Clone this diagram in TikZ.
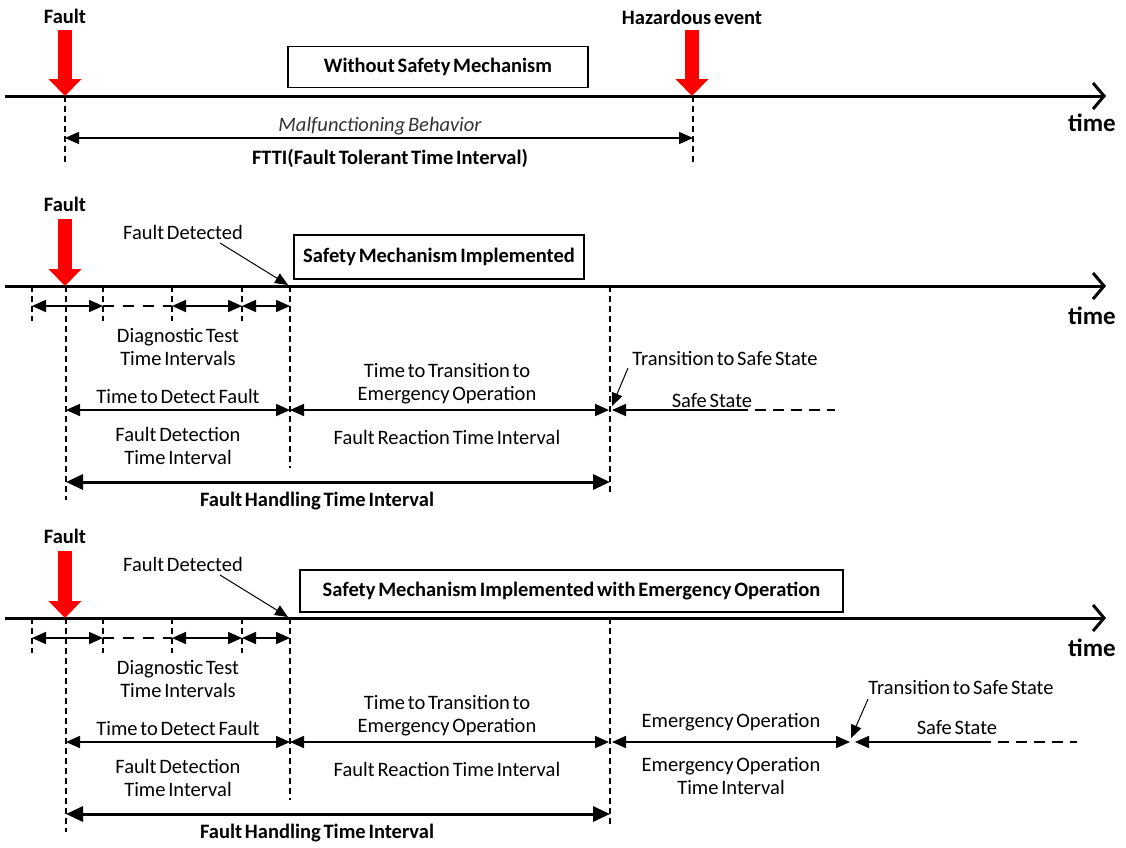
\documentclass[tikz,border=0pt]{standalone}
\usepackage{fontspec}
\setmainfont{Carlito}[WordSpace={0.6,0.5,0.5}]
\usetikzlibrary{arrows.meta}
\tikzset{
  lbl/.style={font=\fontsize{20.5}{23}\selectfont, inner sep=0pt, align=center},
  blbl/.style={font=\bfseries\fontsize{20.5}{23}\selectfont, inner sep=0pt, align=center},
  timelbl/.style={font=\bfseries\fontsize{25}{28}\selectfont, inner sep=0pt},
  ilbl/.style={font=\itshape\fontsize{20.5}{23}\selectfont, inner sep=0pt, text=black!80},
  titlebox/.style={draw, line width=1.3pt, font=\bfseries\fontsize{20.5}{23}\selectfont, inner sep=0pt},
  timeline/.style={line width=3pt, -{Straight Barb[length=11pt,width=26pt,line width=3pt]}},
  dline/.style={line width=1.2pt, dash pattern=on 6pt off 4pt},
  dgap/.style={line width=1.6pt, dash pattern=on 11pt off 9pt},
  ivl/.style={line width=1.6pt, {Triangle[length=14pt,width=12pt]}-{Triangle[length=14pt,width=12pt]}},
  ivleft/.style={line width=1.6pt, {Triangle[length=14pt,width=12pt]}-},
  bigivl/.style={line width=3pt, {Triangle[length=17pt,width=15pt]}-{Triangle[length=17pt,width=15pt]}},
  pointer/.style={line width=1pt, -{Triangle[length=13pt,width=11pt]}},
  redarrow/.style={draw=red, line width=14pt, -{Triangle[length=17pt,width=32pt]}},
}
\newcommand\fhcommon{%
  \node[blbl] (fault) at (65,204) {Fault};
  \coordinate (ra) at (65,219); \coordinate (rb) at (65,286);
  \coordinate (ts) at (5,286); \coordinate (te) at (1106,286);
  \draw[timeline] (ts) -- (te);
  \node[timelbl] (time) at (1092,316) {time};
  \draw[redarrow] (ra) -- (rb);
  \node[lbl] (fd) at (183,232) {Fault Detected};
  \coordinate (fdp) at (220,243); \coordinate (fdt) at (288,285);
  \draw[pointer] (fdp) -- (fdt);
  % ticks
  \foreach \x in {32,103,172,242}{
    \coordinate (tk\x a) at (\x,286); \coordinate (tk\x b) at (\x,321);
    \draw[dline] (tk\x a) -- (tk\x b);
    \coordinate (tk\x) at (\x,306);
  }
  \coordinate (v66a) at (66,286); \coordinate (v66b) at (66,500);
  \coordinate (v290a) at (290,286); \coordinate (v290b) at (290,468);
  \coordinate (v610a) at (610,286); \coordinate (v610b) at (610,492);
  \draw[dline] (v66a) -- (v66b);
  \draw[dline] (v290a) -- (v290b);
  \draw[dline] (v610a) -- (v610b);
  \coordinate (tk290) at (290,306);
  \draw[ivl] (tk32) -- (tk103);
  \draw[dgap] (tk103) -- (tk172);
  \draw[ivl] (tk172) -- (tk242);
  \draw[ivl] (tk242) -- (tk290);
  \node[lbl] (dti) at (178,347) {Diagnostic Test\\Time Intervals};
  \coordinate (a66) at (66,410); \coordinate (a290) at (290,410); \coordinate (a609) at (609,410);
  \node[lbl] (ttd) at (178,396) {Time to Detect Fault};
  \draw[ivl] (a66) -- (a290);
  \node[lbl] (fdti) at (178,446) {Fault Detection\\Time Interval};
  \node[lbl] (tte) at (447,384) {Time to Transition to\\Emergency Operation};
  \draw[ivl] (a290) -- (a609);
  \node[lbl] (frti) at (447,437) {Fault Reaction Time Interval};
  \coordinate (h66) at (66,482); \coordinate (h610) at (610,482);
  \draw[bigivl] (h66) -- (h610);
  \node[blbl] (fhti) at (317,501) {Fault Handling Time Interval};
}
\begin{document}
\begin{tikzpicture}[x=1pt,y=-1pt]
\useasboundingbox (0,0) rectangle (1126,847);
% ---------- Section 1 ----------
\node[blbl] (f1) at (65,16) {Fault};
\node[blbl] (hz) at (692,17) {Hazardous event};
\coordinate (t1s) at (5,96); \coordinate (t1e) at (1106,96);
\draw[timeline] (t1s) -- (t1e);
\node[timelbl] (time1) at (1092,123) {time};
\node[titlebox, minimum width=300pt, minimum height=41pt] (b1) at (438,67) {Without Safety Mechanism};
\coordinate (r1a) at (65,30); \coordinate (r1b) at (65,96);
\coordinate (r2a) at (692,30); \coordinate (r2b) at (692,96);
\draw[redarrow] (r1a) -- (r1b);
\draw[redarrow] (r2a) -- (r2b);
\coordinate (d1a) at (65,96); \coordinate (d1b) at (65,166);
\coordinate (d2a) at (693,96); \coordinate (d2b) at (693,166);
\draw[dline] (d1a) -- (d1b);
\draw[dline] (d2a) -- (d2b);
\coordinate (m1) at (65,138); \coordinate (m2) at (693,138);
\draw[ivl] (m1) -- (m2);
\node[ilbl] (mb) at (380,126) {Malfunctioning Behavior};
\node[blbl] (ftti) at (390,158) {FTTI(Fault Tolerant Time Interval)};
% ---------- Section 2 ----------
\begin{scope}[name prefix=s2-]
  \fhcommon
  \node[titlebox, minimum width=290pt, minimum height=44pt] (box) at (439,257) {Safety Mechanism Implemented};
  \node[lbl] (tss) at (725,358) {Transition to Safe State};
  \coordinate (tsp) at (628,368); \coordinate (tst) at (612,406);
  \draw[pointer] (tsp) -- (tst);
  \node[lbl] (ss) at (712,401) {Safe State};
  \coordinate (ss1) at (612,410); \coordinate (ss2) at (737,410); \coordinate (ss3) at (835,410);
  \draw[ivleft] (ss1) -- (ss2);
  \draw[dgap, dash pattern=on 11pt off 7pt] (ss2) -- (ss3);
\end{scope}
% ---------- Section 3 ----------
\begin{scope}[shift={(0,332)}, name prefix=s3-]
  \fhcommon
  \node[titlebox, minimum width=543pt, minimum height=42pt] (box) at (571.5,259) {Safety Mechanism Implemented with Emergency Operation};
  \coordinate (e1) at (612,410); \coordinate (e2) at (850,410);
  \draw[ivl] (e1) -- (e2);
  \node[lbl] (eo) at (731,390) {Emergency Operation};
  \node[lbl] (eoti) at (731,444) {Emergency Operation\\Time Interval};
  \node[lbl] (tss) at (961,355) {Transition to Safe State};
  \coordinate (tsp) at (868,367); \coordinate (tst) at (851,406);
  \draw[pointer] (tsp) -- (tst);
  \node[lbl] (ss) at (957,396) {Safe State};
  \coordinate (ss1) at (855,410); \coordinate (ss2) at (980,410); \coordinate (ss3) at (1077,410);
  \draw[ivleft] (ss1) -- (ss2);
  \draw[dgap, dash pattern=on 11pt off 7pt] (ss2) -- (ss3);
\end{scope}
\end{tikzpicture}
\end{document}
